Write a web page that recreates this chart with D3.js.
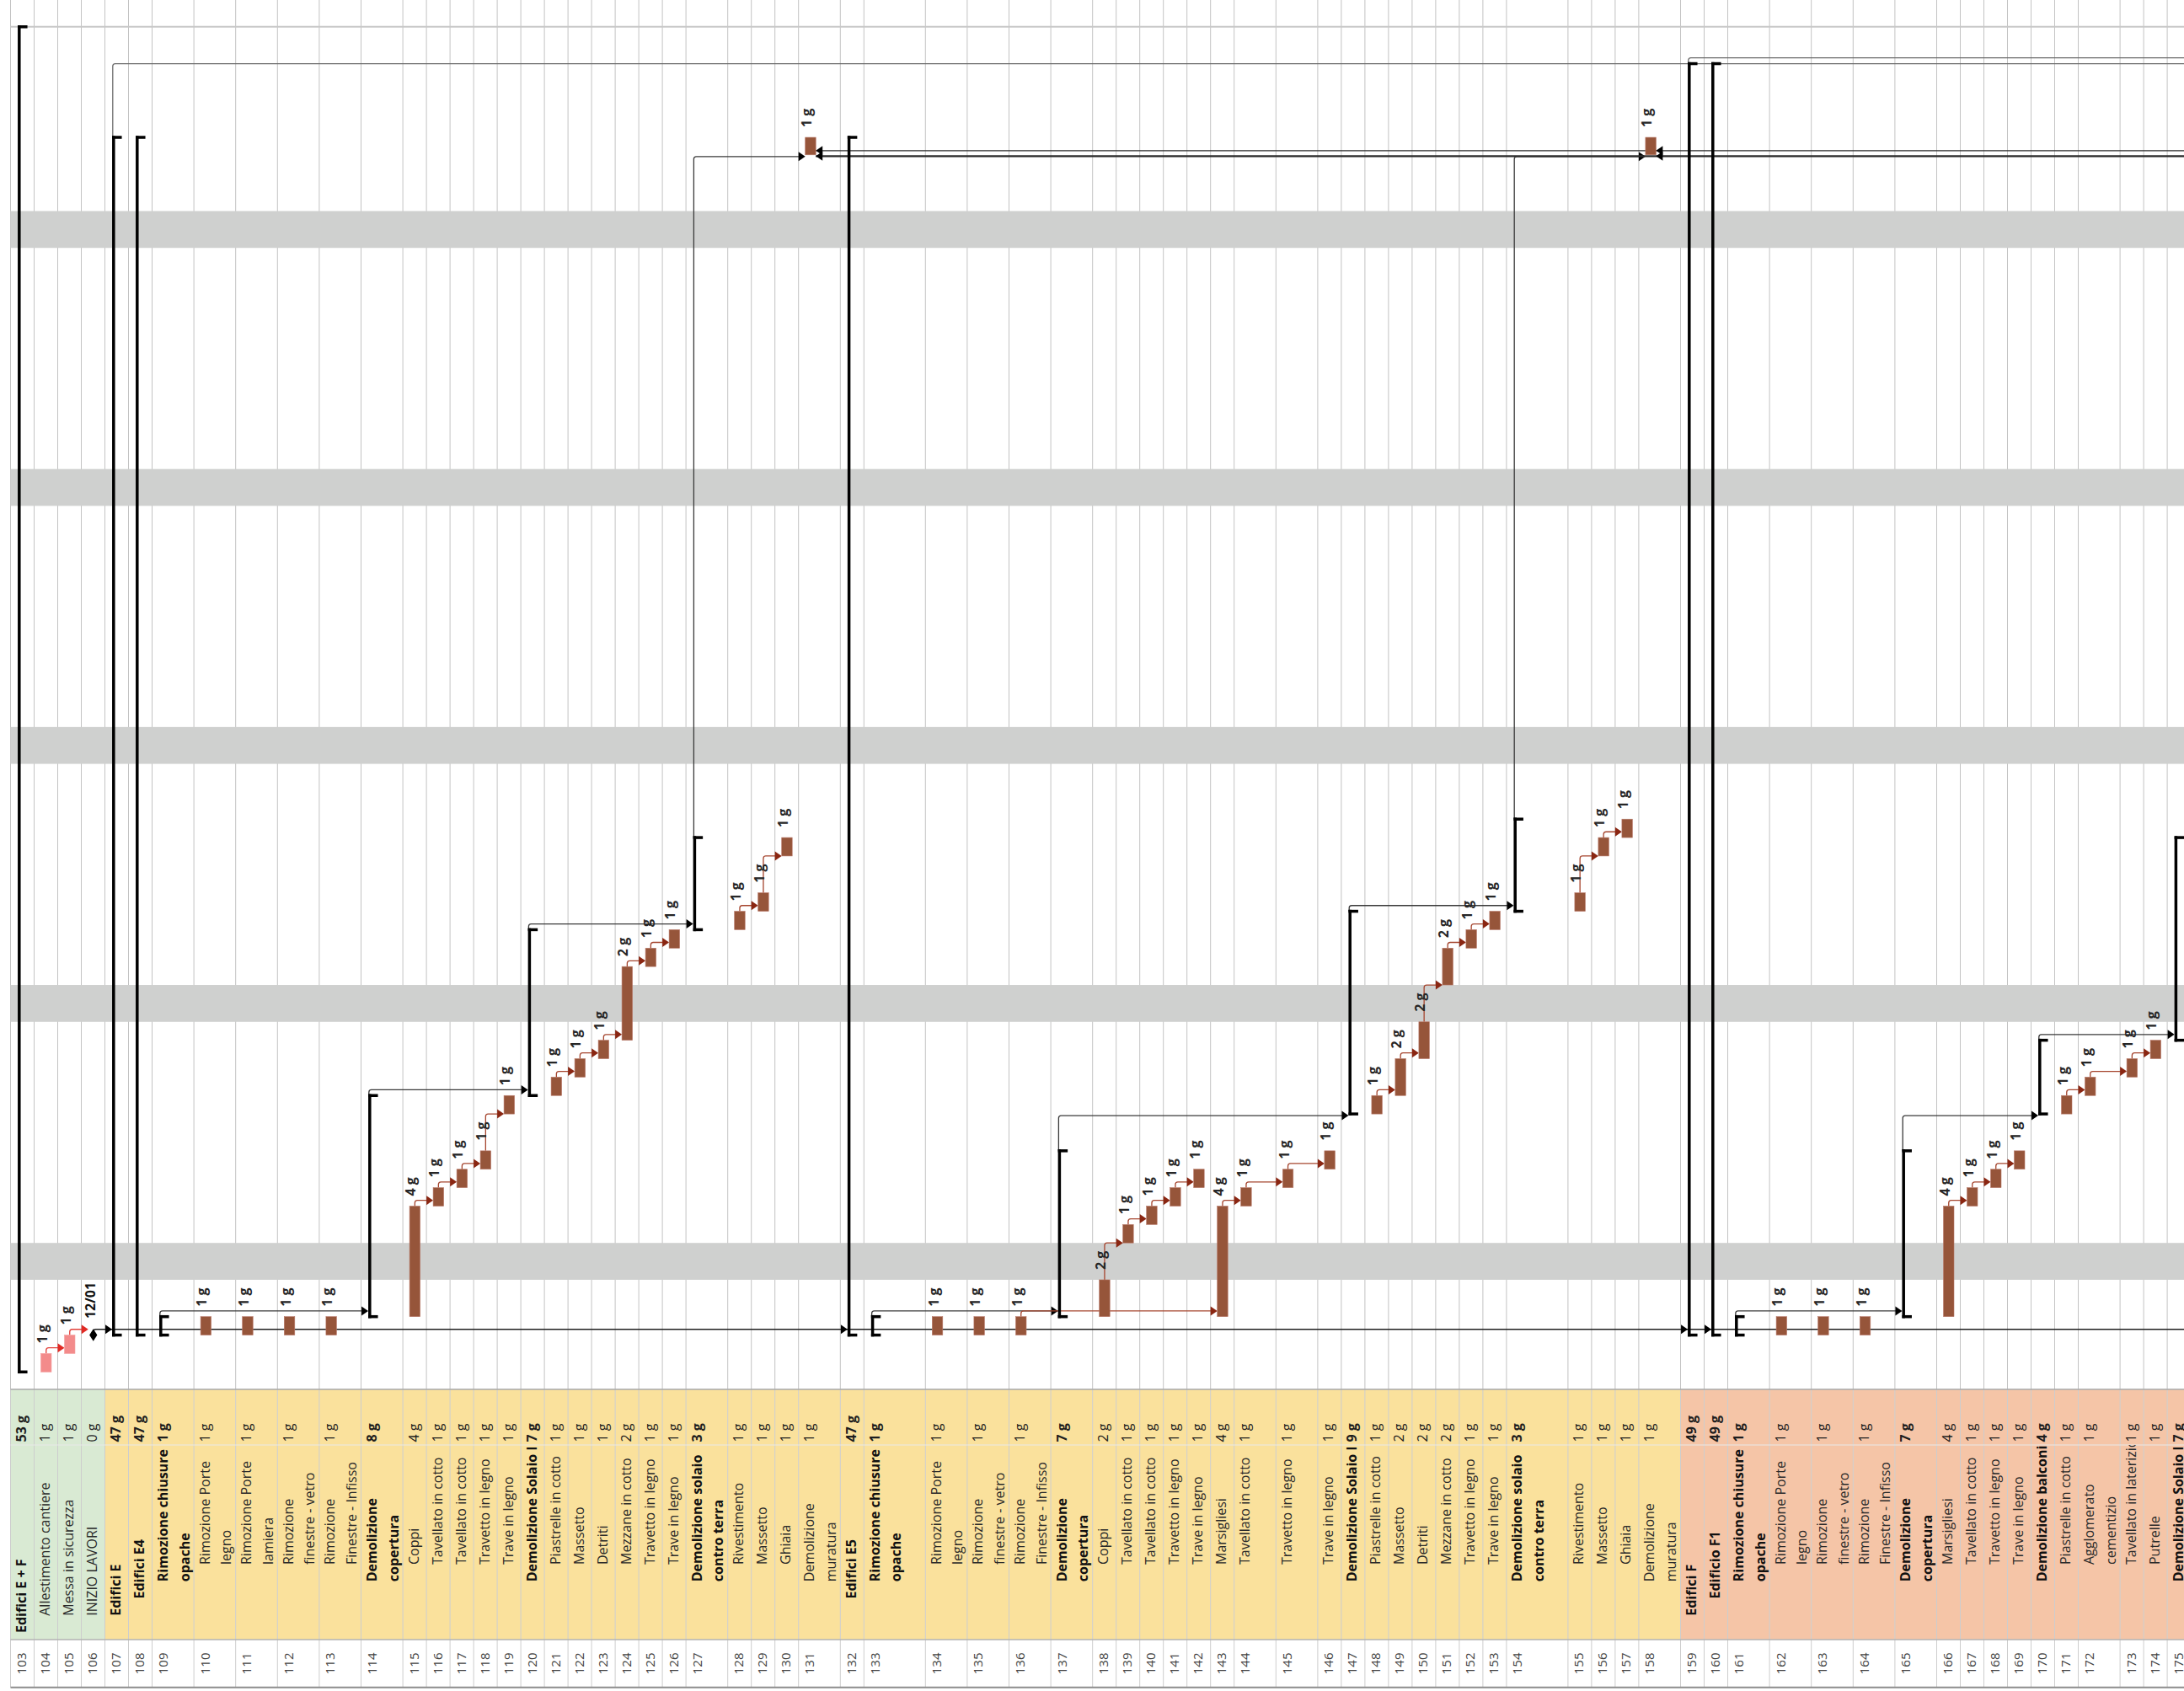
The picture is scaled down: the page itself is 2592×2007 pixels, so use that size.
<!DOCTYPE html>
<meta charset="utf-8">
<style>
body { margin: 0; background: #fff; }
svg text { font-family: "Open Sans", "DejaVu Sans", sans-serif; }
</style>
<body>
<div id="gantt"></div>
<script src="https://d3js.org/d3.v7.min.js"></script>
<script>

// ---- task table, one entry per row ----
var ids = [103,104,105,106,107,108,109,110,111,112,113,114,115,116,117,118,119,120,121,122,123,124,125,126,127,128,129,130,131,
  132,133,134,135,136,137,138,139,140,141,142,143,144,145,146,147,148,149,150,151,152,153,154,155,156,157,158,
  159,160,161,162,163,164,165,166,167,168,169,170,171,172,173,174,175];

var names = ["Edifici E + F","Allestimento cantiere","Messa in sicurezza","INIZIO LAVORI","Edifici E","Edifici E4",
  "Rimozione chiusure\nopache","Rimozione Porte\nlegno","Rimozione Porte\nlamiera","Rimozione\nfinestre - vetro","Rimozione\nFinestre - Infisso",
  "Demolizione\ncopertura","Coppi","Tavellato in cotto","Tavellato in cotto","Travetto in legno","Trave in legno",
  "Demolizione Solaio Interpiano","Piastrelle in cotto","Massetto","Detriti","Mezzane in cotto","Travetto in legno","Trave in legno",
  "Demolizione solaio\ncontro terra","Rivestimento","Massetto","Ghiaia","Demolizione\nmuratura",
  "Edifici E5","Rimozione chiusure\nopache","Rimozione Porte\nlegno","Rimozione\nfinestre - vetro","Rimozione\nFinestre - Infisso",
  "Demolizione\ncopertura","Coppi","Tavellato in cotto","Tavellato in cotto","Travetto in legno","Trave in legno","Marsigliesi",
  "Tavellato in cotto","Travetto in legno","Trave in legno","Demolizione Solaio Interpiano","Piastrelle in cotto","Massetto","Detriti",
  "Mezzane in cotto","Travetto in legno","Trave in legno","Demolizione solaio\ncontro terra","Rivestimento","Massetto","Ghiaia","Demolizione\nmuratura",
  "Edifici F","Edificio F1","Rimozione chiusure\nopache","Rimozione Porte\nlegno","Rimozione\nfinestre - vetro","Rimozione\nFinestre - Infisso",
  "Demolizione\ncopertura","Marsigliesi","Tavellato in cotto","Travetto in legno","Trave in legno","Demolizione balconi",
  "Piastrelle in cotto","Agglomerato\ncementizio","Tavellato in laterizio","Putrelle","Demolizione Solaio Interpiano"];

var durations = ["53 g","1 g","1 g","0 g","47 g","47 g","1 g","1 g","1 g","1 g","1 g","8 g","4 g","1 g","1 g","1 g","1 g",
  "7 g","1 g","1 g","1 g","2 g","1 g","1 g","3 g","1 g","1 g","1 g","1 g",
  "47 g","1 g","1 g","1 g","1 g","7 g","2 g","1 g","1 g","1 g","1 g","4 g","1 g","1 g","1 g","9 g","1 g","2 g","2 g",
  "2 g","1 g","1 g","3 g","1 g","1 g","1 g","1 g",
  "49 g","49 g","1 g","1 g","1 g","1 g","7 g","4 g","1 g","1 g","1 g","4 g","1 g","1 g","1 g","1 g","7 g"];

// outline level of each row
var levels = [0,1,1,1,1,2,3,4,4,4,4,3,4,4,4,4,4,3,4,4,4,4,4,4,3,4,4,4,3,
  2,3,4,4,4,3,4,4,4,4,4,4,4,4,4,3,4,4,4,4,4,4,3,4,4,4,3,
  1,2,3,4,4,4,3,4,4,4,4,3,4,4,4,4,3];

// S = summary, T = task, C = critical task, M = milestone
var kinds = ["S","C","C","M","S","S","S","T","T","T","T","S","T","T","T","T","T","S","T","T","T","T","T","T","S","T","T","T","T",
  "S","S","T","T","T","S","T","T","T","T","T","T","T","T","T","S","T","T","T","T","T","T","S","T","T","T","T",
  "S","S","S","T","T","T","S","T","T","T","T","S","T","T","T","T","S"];

// start / finish, in calendar days from the first day of the site
var starts = [0,0,1,2,2,2,2,2,2,2,2,3,3,9,10,11,14,15,15,16,17,18,22,23,24,24,25,28,66.05,
  2,2,2,2,2,3,3,7,8,9,10,3,9,10,11,14,14,15,17,21,23,24,25,25,28,29,66.05,
  2,2,2,2,2,2,3,3,9,10,11,14,14,15,16,17,18];
var finishes = [73,1,2,2,67,67,3,3,3,3,3,15,9,10,11,12,15,24,16,17,18,22,23,24,29,25,26,29,67,
  67,3,3,3,3,12,5,8,9,10,11,9,10,11,12,25,15,17,19,23,24,25,30,26,29,30,67,
  71,71,3,3,3,3,12,9,10,11,12,18,15,16,17,18,29];

// links between rows [predecessor, successor]
var links = [[104,105],[105,106],
  [109,114],[114,120],[120,127],[127,131],[133,137],[137,147],[147,154],[154,158],[161,165],[165,170],[170,175],
  [115,116],[116,117],[117,118],[118,119],[121,122],[122,123],[123,124],[124,125],[125,126],[128,129],[129,130],
  [136,143],[138,139],[139,140],[140,141],[141,142],[143,144],[144,145],[145,146],
  [148,149],[149,150],[150,151],[151,152],[152,153],[155,156],[156,157],
  [166,167],[167,168],[168,169],[171,172],[172,173],[173,174]];
var milestoneSuccessors = [107,132,159,160];
var outgoingRight = [107,159];      // links leaving the view to the right
var incomingRight = [131,158];      // links coming from rows beyond the view

var milestoneDate = "12/01";
var nonWorkingStarts = [5,19,33,47,61];
var nonWorkingDays = 2;

// ---- layout ----
var W = 2592, H = 2007;
var rowLines = [1,1,1,1,1,1,2,2,2,2,2,2,1,1,1,1,1,1,1,1,1,1,1,1,2,1,1,1,2,
  1,3,2,2,2,2,1,1,1,1,1,1,2,2,1,1,1,1,1,1,1,1,3,1,1,1,2,
  1,1,2,2,2,2,2,1,1,1,1,1,1,2,1,1,1];
var lineWidth = {1: 28.0, 2: 49.6, 3: 73};
var x0 = 12.5;
var chartBottom = 1649, durBottom = 1715, nameBottom = 1946, idBottom = 2002.7;

var lefts = [], widths = [], acc = x0;
rowLines.forEach(function(n) { lefts.push(acc); widths.push(lineWidth[n]); acc += lineWidth[n]; });

var xLeft = d3.scaleOrdinal().domain(ids).range(lefts);
var xWidth = d3.scaleOrdinal().domain(ids).range(widths);
var y = d3.scaleLinear().domain([0, 73]).range([1628.3, 31.8]);

var rows = ids.map(function(id, i) {
  return {id: id, name: names[i], dur: durations[i], level: levels[i], kind: kinds[i],
          start: starts[i], finish: finishes[i]};
});
var byId = {};
rows.forEach(function(r) { byId[r.id] = r; });

// group colour from the level-1 parent
var groupFill = {"": "#d9ead3", "Edifici E": "#fae19c", "Edifici F": "#f5c5a7"};
var current = "";
rows.forEach(function(r) {
  if (r.level === 1) current = (r.kind === "S") ? r.name : "";
  if (r.level === 0) current = "";
  r.fill = groupFill[current];
});

function barLeft(id) { return xLeft(id) + 8; }
function barMid(id) { return xLeft(id) + 14.25; }
function sumX(id) { return xLeft(id) + 10.3; }

var svg = d3.select("#gantt").append("svg")
  .attr("width", W).attr("height", H);

svg.append("rect").attr("width", W).attr("height", H).attr("fill", "#fff");

// vertical grid
var gridX = lefts.concat([acc]);
svg.append("g").selectAll("line").data(gridX).join("line")
  .attr("x1", function(d) { return d; }).attr("x2", function(d) { return d; })
  .attr("y1", 0).attr("y2", chartBottom)
  .attr("stroke", "#c3c3c3").attr("stroke-width", 1);

svg.append("line").attr("x1", x0).attr("x2", W).attr("y1", y(73)).attr("y2", y(73))
  .attr("stroke", "#c8c8c8").attr("stroke-width", 2);

// non working days
svg.append("g").selectAll("rect").data(nonWorkingStarts).join("rect")
  .attr("x", x0).attr("width", W - x0)
  .attr("y", function(d) { return y(d + nonWorkingDays); })
  .attr("height", function(d) { return y(d) - y(d + nonWorkingDays); })
  .attr("fill", "#cfd0cf");

// ---- links ----
var gLinks = svg.append("g");
function bentPath(sx, sy, hy, tx) {
  var r = Math.min(3, Math.abs(sy - hy));
  var dir = tx > sx ? 1 : -1;
  return "M" + sx + "," + sy + "V" + (hy + r) + "Q" + sx + "," + hy + " " + (sx + dir * r) + "," + hy + "H" + tx;
}
function arrow(tx, ty, dir, color) {
  gLinks.append("path")
    .attr("d", "M" + tx + "," + ty + "L" + (tx - dir * 8) + "," + (ty - 5.5) + "L" + (tx - dir * 8) + "," + (ty + 5.5) + "Z")
    .attr("fill", color);
}

links.forEach(function(l) {
  var p = byId[l[0]], s = byId[l[1]];
  var summaryLink = p.kind === "S" || s.kind === "S";
  var lineColor = p.kind === "C" ? "#e2403a" : summaryLink ? "#3a3a3a" : "#a5452e";
  var headColor = p.kind === "C" ? "#e02a24" : summaryLink ? "#000" : "#8a2612";
  var sx = p.kind === "S" ? sumX(p.id) - 1 : barMid(p.id);
  var sy = y(p.finish);
  var tx = s.kind === "S" ? sumX(s.id) - 1.75 : s.kind === "M" ? barMid(s.id) - 6 : barLeft(s.id);
  var hy = (s.start > p.finish) ? y(s.start) + (summaryLink ? 2 : 0) : y(s.start) - 6.8;
  gLinks.append("path").attr("d", bentPath(sx, sy, hy, tx - 6))
    .attr("fill", "none").attr("stroke", lineColor).attr("stroke-width", 1.3);
  arrow(tx, hy, 1, headColor);
});

// milestone to the building summaries
var ms = rows.filter(function(r) { return r.kind === "M"; })[0];
var msY = y(ms.start) - 6.8;
gLinks.append("path").attr("d", bentPath(barMid(ms.id), y(ms.start), msY, W))
  .attr("fill", "none").attr("stroke", "#1e1e1e").attr("stroke-width", 1.5);
milestoneSuccessors.forEach(function(id) { arrow(sumX(id) - 1.75, msY, 1, "#000"); });

// links leaving to the right at the top
outgoingRight.forEach(function(id, i) {
  var r = byId[id];
  var hy = y(71) - i * 7;
  gLinks.append("path").attr("d", bentPath(sumX(id) - 1, y(r.finish), hy, W))
    .attr("fill", "none").attr("stroke", "#6b6b6b").attr("stroke-width", 1.3);
});

// links coming from the right
var inA = y(incomingRight.length ? byId[incomingRight[0]].start : 0);
[[inA - 5, 1.2], [inA + 1.5, 2.2]].forEach(function(d) {
  gLinks.append("line").attr("x1", barLeft(incomingRight[0]) + 12.5).attr("x2", W)
    .attr("y1", d[0]).attr("y2", d[0]).attr("stroke", "#2a2a2a").attr("stroke-width", d[1]);
});
incomingRight.forEach(function(id) {
  arrow(barLeft(id) + 12.5, inA - 5, -1, "#000");
  arrow(barLeft(id) + 12.5, inA + 1.5, -1, "#000");
});

// ---- bars ----
var tasks = rows.filter(function(r) { return r.kind === "T" || r.kind === "C"; });
svg.append("g").selectAll("rect").data(tasks).join("rect")
  .attr("x", function(d) { return barLeft(d.id); })
  .attr("width", 12.5)
  .attr("y", function(d) { return y(d.finish); })
  .attr("height", function(d) { return y(d.start) - y(d.finish); })
  .attr("fill", function(d) { return d.kind === "C" ? "#f38b8b" : "#96553a"; })
  .attr("stroke", function(d) { return d.kind === "C" ? "#f5a0a0" : "#b9796a"; })
  .attr("stroke-width", 0.6);

// summary brackets
var sums = rows.filter(function(r) { return r.kind === "S"; });
var gSum = svg.append("g").attr("fill", "#000");
sums.forEach(function(d) {
  var lx = sumX(d.id) - 1.75;
  gSum.append("rect").attr("x", lx).attr("width", 3.5)
    .attr("y", y(d.finish) - 1.75).attr("height", y(d.start) - y(d.finish) + 3.5);
  [d.start, d.finish].forEach(function(t) {
    gSum.append("rect").attr("x", lx).attr("width", 11.5)
      .attr("y", y(t) - 1.75).attr("height", 3.5);
  });
});

// milestone
svg.append("path")
  .attr("d", d3.symbol().type(d3.symbolDiamond).size(75))
  .attr("transform", "translate(" + barMid(ms.id) + "," + y(ms.start) + ") scale(1,0.9)")
  .attr("fill", "#000");
svg.append("text")
  .attr("transform", "translate(" + (barMid(ms.id) + 2.5) + "," + (y(ms.start) - 19.5) + ") rotate(-90)")
  .attr("font-size", 16).attr("font-weight", "bold").attr("fill", "#111")
  .text(milestoneDate);

// duration labels above bars
svg.append("g").selectAll("text").data(tasks).join("text")
  .attr("transform", function(d) { return "translate(" + (barMid(d.id) + 1) + "," + (y(d.finish) - 12) + ") rotate(-90)"; })
  .attr("font-size", 16).attr("font-weight", "bold").attr("fill", "#262626")
  .text(function(d) { return d.dur; });

// ---- table ----
var gT = svg.append("g");
gT.selectAll("rect.cell").data(rows).join("rect").attr("class", "cell")
  .attr("x", function(d) { return xLeft(d.id); })
  .attr("width", function(d) { return xWidth(d.id); })
  .attr("y", chartBottom).attr("height", nameBottom - chartBottom)
  .attr("fill", function(d) { return d.fill; });
gT.append("rect").attr("x", x0).attr("width", W - x0).attr("y", nameBottom)
  .attr("height", idBottom - nameBottom).attr("fill", "#fff");
gT.selectAll("line.v").data(gridX).join("line").attr("class", "v")
  .attr("x1", function(d) { return d; }).attr("x2", function(d) { return d; })
  .attr("y1", chartBottom).attr("y2", idBottom)
  .attr("stroke", "#cdcdcd").attr("stroke-width", 1);
[[chartBottom, "#a9a9a9", 1.6], [durBottom, "#e9e9e9", 1], [nameBottom, "#b3b3b3", 1.5], [idBottom, "#8d8d8d", 2]]
  .forEach(function(h) {
    gT.append("line").attr("x1", x0).attr("x2", W).attr("y1", h[0]).attr("y2", h[0])
      .attr("stroke", h[1]).attr("stroke-width", h[2]);
  });

var defs = svg.append("defs");
rows.forEach(function(d) {
  defs.append("clipPath").attr("id", "clip" + d.id).append("rect")
    .attr("x", xLeft(d.id)).attr("width", xWidth(d.id))
    .attr("y", durBottom).attr("height", nameBottom - durBottom);
});

rows.forEach(function(d) {
  var bx = xLeft(d.id) + 18.5;
  var bold = d.kind === "S" ? "bold" : "normal";
  var gName = gT.append("g").attr("clip-path", "url(#clip" + d.id + ")");
  d.name.split("\n").forEach(function(line, i) {
    gName.append("text")
      .attr("transform", "translate(" + (bx + i * 25.5) + "," + (1938 - d.level * 20.25) + ") rotate(-90)")
      .attr("font-size", 16).attr("font-weight", bold).attr("fill", d.kind === "S" ? "#111" : "#2a2a2a")
      .text(line);
  });
  gT.append("text")
    .attr("transform", "translate(" + bx + "," + (durBottom - 3.5) + ") rotate(-90)")
    .attr("font-size", 16).attr("font-weight", bold).attr("fill", "#1e1e1e")
    .text(d.dur);
  gT.append("text")
    .attr("transform", "translate(" + bx + "," + ((nameBottom + idBottom) / 2) + ") rotate(-90)")
    .attr("text-anchor", "middle")
    .attr("font-size", 15).attr("fill", "#444")
    .text(d.id);
});

</script>
</body>
